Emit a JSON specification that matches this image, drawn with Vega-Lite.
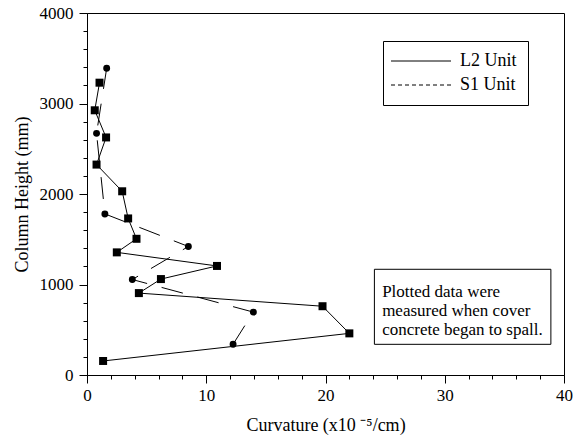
{
  "$schema": "https://vega.github.io/schema/vega-lite/v6.json",
  "width": 477,
  "height": 362,
  "autosize": {"type": "none"},
  "padding": {"left": 87, "top": 13, "right": 11, "bottom": 69},
  "background": "white",
  "config": {
    "view": {"stroke": "black", "strokeWidth": 1},
    "font": "Liberation Serif",
    "axis": {
      "grid": false,
      "domainColor": "black",
      "tickColor": "black",
      "labelColor": "black",
      "titleColor": "black",
      "labelFont": "Liberation Serif",
      "titleFont": "Liberation Serif",
      "labelFontSize": 17,
      "titleFontSize": 18,
      "titleFontWeight": "normal",
      "tickSize": 8
    }
  },
  "datasets": {
    "points": [
      {"series": "L2 Unit", "curv": 1.35, "height": 155},
      {"series": "L2 Unit", "curv": 22.0, "height": 460},
      {"series": "L2 Unit", "curv": 19.75, "height": 760},
      {"series": "L2 Unit", "curv": 4.35, "height": 905},
      {"series": "L2 Unit", "curv": 6.2, "height": 1060},
      {"series": "L2 Unit", "curv": 10.9, "height": 1205},
      {"series": "L2 Unit", "curv": 2.5, "height": 1355},
      {"series": "L2 Unit", "curv": 4.15, "height": 1505},
      {"series": "L2 Unit", "curv": 3.45, "height": 1730},
      {"series": "L2 Unit", "curv": 2.95, "height": 2030},
      {"series": "L2 Unit", "curv": 0.8, "height": 2325},
      {"series": "L2 Unit", "curv": 1.6, "height": 2625},
      {"series": "L2 Unit", "curv": 0.65, "height": 2925},
      {"series": "L2 Unit", "curv": 1.05, "height": 3230},
      {"series": "S1 Unit", "curv": 12.25, "height": 340},
      {"series": "S1 Unit", "curv": 13.95, "height": 695},
      {"series": "S1 Unit", "curv": 3.8, "height": 1055},
      {"series": "S1 Unit", "curv": 8.5, "height": 1420},
      {"series": "S1 Unit", "curv": 1.5, "height": 1780},
      {"series": "S1 Unit", "curv": 0.8, "height": 2670},
      {"series": "S1 Unit", "curv": 1.65, "height": 3390}
    ],
    "notebox": [
      {"curv": 24.1, "curv2": 38.9, "height": 1168, "height2": 339}
    ],
    "notetext": [
      {"text": "Plotted data were\nmeasured when cover\nconcrete began to spall.", "curv": 24.75, "height": 920}
    ]
  },
  "encoding": {
    "x": {
      "field": "curv", "type": "quantitative",
      "scale": {"domain": [0, 40], "nice": false, "zero": false},
      "axis": {
        "title": "Curvature (x10 ⁻⁵/cm)",
        "values": [0,2,4,6,8,10,12,14,16,18,20,22,24,26,28,30,32,34,36,38,40],
        "labelExpr": "datum.value % 10 === 0 ? datum.label : ''",
        "tickSize": {"condition": {"test": "datum.value % 10 === 0", "value": 8}, "value": 4},
        "labelPadding": 4,
        "titlePadding": 13,
        "labelFlush": false,
        "labelOverlap": false
      }
    },
    "y": {
      "field": "height", "type": "quantitative",
      "scale": {"domain": [0, 4000], "nice": false},
      "axis": {
        "title": "Column Height (mm)",
        "values": [0,200,400,600,800,1000,1200,1400,1600,1800,2000,2200,2400,2600,2800,3000,3200,3400,3600,3800,4000],
        "labelExpr": "datum.value % 1000 === 0 ? datum.label : ''",
        "format": "d",
        "tickSize": {"condition": {"test": "datum.value % 1000 === 0", "value": 8}, "value": 4},
        "labelPadding": 6,
        "titlePadding": 8,
        "labelFlush": false,
        "labelOverlap": false
      }
    }
  },
  "layer": [
    {
      "data": {"name": "points"},
      "transform": [{"filter": "datum.series === 'L2 Unit'"}],
      "mark": {"type": "line", "color": "black", "strokeWidth": 1},
      "encoding": {
        "order": {"field": "height", "type": "quantitative"}
      }
    },
    {
      "data": {"name": "points"},
      "transform": [{"filter": "datum.series === 'S1 Unit'"}],
      "mark": {"type": "line", "color": "black", "strokeWidth": 1, "strokeDash": [22, 15]},
      "encoding": {
        "order": {"field": "height", "type": "quantitative"}
      }
    },
    {
      "data": {"name": "points"},
      "transform": [{"filter": "false"}],
      "mark": {"type": "line", "color": "black", "strokeWidth": 1},
      "encoding": {
        "strokeDash": {
          "field": "series", "type": "nominal",
          "scale": {"domain": ["L2 Unit", "S1 Unit"], "range": [[1, 0], [4, 3]]},
          "legend": {
            "title": null,
            "orient": "none",
            "legendX": 296,
            "legendY": 28,
            "padding": 11,
            "rowPadding": 6,
            "strokeColor": "black",
            "fillColor": "white",
            "labelFont": "Liberation Serif",
            "labelFontSize": 18,
            "labelColor": "black",
            "labelOffset": 30,
            "symbolType": "M-4,0H4",
            "symbolSize": 225,
            "symbolOffset": 18,
            "symbolStrokeColor": "black",
            "symbolStrokeWidth": 1
          }
        }
      }
    },
    {
      "data": {"name": "points"},
      "transform": [{"filter": "datum.series === 'L2 Unit'"}],
      "mark": {"type": "point", "shape": "square", "size": 64, "filled": true, "color": "black", "opacity": 1}
    },
    {
      "data": {"name": "points"},
      "transform": [{"filter": "datum.series === 'S1 Unit'"}],
      "mark": {"type": "point", "shape": "circle", "size": 48, "filled": true, "color": "black", "opacity": 1}
    },
    {
      "data": {"name": "notebox"},
      "mark": {"type": "rect", "fill": "white", "stroke": "black", "strokeWidth": 1},
      "encoding": {
        "x2": {"field": "curv2"},
        "y2": {"field": "height2"}
      }
    },
    {
      "data": {"name": "notetext"},
      "mark": {
        "type": "text",
        "lineBreak": "\n",
        "lineHeight": 19,
        "align": "left",
        "baseline": "middle",
        "font": "Liberation Serif",
        "fontSize": 17,
        "color": "black"
      },
      "encoding": {
        "text": {"field": "text"}
      }
    }
  ]
}
